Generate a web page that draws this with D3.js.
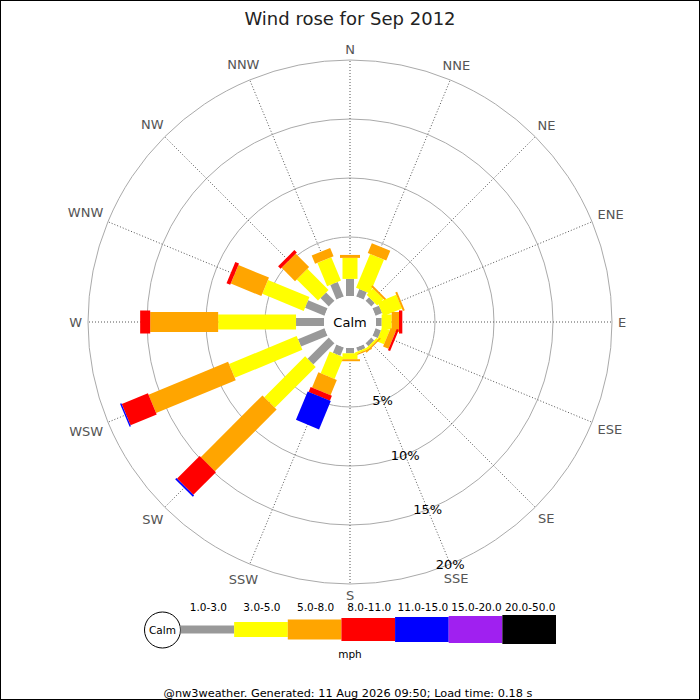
<!DOCTYPE html>
<html>
<head>
<meta charset="utf-8">
<script src="https://cdn.jsdelivr.net/npm/d3@7/dist/d3.min.js"></script>
<style>
  body { margin: 0; background: #fff; }
  svg { display: block; font-family: "DejaVu Sans", sans-serif; }
</style>
</head>
<body>
<svg id="chart" width="700" height="700"></svg>
<script>
"use strict";

// compass directions, clockwise from north
const directions = ["N","NNE","NE","ENE","E","ESE","SE","SSE","S","SSW","SW","WSW","W","WNW","NW","NNW"];
const speedBins = ["1.0-3.0","3.0-5.0","5.0-8.0","8.0-11.0","11.0-15.0","15.0-20.0","20.0-50.0"];

// percentage of time per direction for each speed class (mph)
const bin1to3   = [1.45,0.68,0.42,0.60,0.48,0.50,0.35,0.35,0.45,0.76,2.54,2.43,2.37,1.78,1.00,1.33];
const bin3to5   = [1.78,3.10,0.76,1.70,0.85,0.68,0.17,0.17,0.50,2.00,4.90,6.20,6.60,3.80,2.54,2.15];
const bin5to8   = [0.25,0.90,0.17,0.17,0.62,0.50,0.12,0.10,0.17,1.40,7.40,7.30,5.76,2.80,1.60,0.76];
const bin8to11  = [0,0,0,0,0.28,0.20,0,0,0,0.45,2.70,2.40,0.85,0.34,0.30,0];
const bin11to15 = [0,0,0,0,0,0,0,0,0,2.60,0.15,0.12,0,0,0,0];
const bin15to20 = [0,0,0,0,0,0,0,0,0,0,0,0,0,0,0,0];
const bin20to50 = [0,0,0,0,0,0,0,0,0,0,0,0,0,0,0,0];
const series = [bin1to3, bin3to5, bin5to8, bin8to11, bin11to15, bin15to20, bin20to50];

const pctTicks = [5, 10, 15, 20];

// styles
const binColors = ["#999999","#ffff00","#ffa500","#ff0000","#0000ff","#a020f0","#000000"];
const binWidths = [8, 15, 20, 23, 25, 27, 29];

const cx = 350, cy = 322;
const calmR = 26;

const svg = d3.select("#chart");

svg.append("rect")
  .attr("x", 0.5).attr("y", 0.5)
  .attr("width", 699).attr("height", 699)
  .attr("fill", "#fff").attr("stroke", "#000");

svg.append("text")
  .attr("x", 350).attr("y", 25)
  .attr("text-anchor", "middle")
  .attr("font-size", 18)
  .attr("fill", "#222")
  .text("Wind rose for Sep 2012");

const r = d3.scaleLinear().domain([0, 20]).range([calmR, 262]);
const angle = d3.scaleBand().domain(directions).range([0, 360]).paddingInner(0).align(0);
const ang = d => angle(d); // degrees clockwise from north

const rose = svg.append("g").attr("transform", `translate(${cx},${cy})`);

// grid circles
rose.selectAll("circle.grid")
  .data(pctTicks)
  .enter().append("circle")
  .attr("class", "grid")
  .attr("r", d => r(d))
  .attr("fill", "none")
  .attr("stroke", "#aaaaaa")
  .attr("stroke-width", 1);

// spokes
rose.selectAll("line.spoke")
  .data(directions)
  .enter().append("line")
  .attr("class", "spoke")
  .attr("x1", d => calmR * Math.sin(ang(d) * Math.PI / 180))
  .attr("y1", d => -calmR * Math.cos(ang(d) * Math.PI / 180))
  .attr("x2", d => r(20) * Math.sin(ang(d) * Math.PI / 180))
  .attr("y2", d => -r(20) * Math.cos(ang(d) * Math.PI / 180))
  .attr("stroke", "#555")
  .attr("stroke-width", 1)
  .attr("stroke-dasharray", "1,2");

// compass labels
const labelFont = 13;
rose.selectAll("text.dir")
  .data(directions)
  .enter().append("text")
  .attr("class", "dir")
  .attr("font-size", labelFont)
  .attr("fill", "#555")
  .attr("text-anchor", "middle")
  .attr("dominant-baseline", "central")
  .text(d => d)
  .each(function(d) {
    const a = ang(d) * Math.PI / 180;
    const ux = Math.sin(a), uy = -Math.cos(a);
    const w = this.getComputedTextLength();
    const rr = r(20) + 6 + (w / 2) * Math.abs(ux) + 5 * Math.abs(uy);
    d3.select(this).attr("x", rr * ux).attr("y", rr * uy);
  });

// stacked bars
const stacks = directions.map((d, i) => {
  let cum = 0;
  return series.map((s, k) => {
    const seg = { dir: d, k: k, from: cum, to: cum + s[i] };
    cum += s[i];
    return seg;
  }).filter(seg => seg.to > seg.from);
});

const barG = rose.selectAll("g.dirbar")
  .data(stacks)
  .enter().append("g")
  .attr("class", "dirbar")
  .attr("transform", (segs, i) => `rotate(${ang(directions[i])})`);

barG.selectAll("rect")
  .data(segs => segs)
  .enter().append("rect")
  .attr("x", s => -binWidths[s.k] / 2)
  .attr("width", s => binWidths[s.k])
  .attr("y", s => -r(s.to))
  .attr("height", s => r(s.to) - r(s.from))
  .attr("fill", s => binColors[s.k]);

// calm circle
rose.append("circle").attr("r", calmR).attr("fill", "#fff");
rose.append("text")
  .attr("text-anchor", "middle")
  .attr("dominant-baseline", "central")
  .attr("font-size", 13)
  .attr("fill", "#000")
  .text("Calm");

// percentage labels along SSE spoke
const sse = ang("SSE") * Math.PI / 180;
rose.selectAll("text.pct")
  .data(pctTicks)
  .enter().append("text")
  .attr("class", "pct")
  .attr("x", d => r(d) * Math.sin(sse))
  .attr("y", d => -r(d) * Math.cos(sse))
  .attr("text-anchor", "middle")
  .attr("dominant-baseline", "central")
  .attr("font-size", 13)
  .attr("fill", "#000")
  .text(d => d + "%");

// legend
const legX = d3.scaleBand().domain(speedBins).range([180.5, 556]);
const legY = 629.5;
const legend = svg.append("g");

legend.append("circle")
  .attr("cx", 162.5).attr("cy", 630).attr("r", 18)
  .attr("fill", "#fff").attr("stroke", "#000");
legend.append("text")
  .attr("x", 162.5).attr("y", 630)
  .attr("text-anchor", "middle").attr("dominant-baseline", "central")
  .attr("font-size", 10.5)
  .text("Calm");

legend.selectAll("rect")
  .data(speedBins)
  .enter().append("rect")
  .attr("x", d => legX(d))
  .attr("width", legX.bandwidth())
  .attr("y", (d, i) => legY - binWidths[i] / 2)
  .attr("height", (d, i) => binWidths[i])
  .attr("fill", (d, i) => binColors[i]);

legend.selectAll("text.bin")
  .data(speedBins)
  .enter().append("text")
  .attr("class", "bin")
  .attr("x", d => legX(d) + legX.bandwidth() / 2 + 1)
  .attr("y", 611)
  .attr("text-anchor", "middle")
  .attr("font-size", 10.5)
  .text(d => d);

legend.append("text")
  .attr("x", 350).attr("y", 658)
  .attr("text-anchor", "middle")
  .attr("font-size", 10.5)
  .text("mph");

svg.append("text")
  .attr("x", 348).attr("y", 697)
  .attr("text-anchor", "middle")
  .attr("font-size", 11.3)
  .text("@nw3weather. Generated: 11 Aug 2026 09:50; Load time: 0.18 s");
</script>
</body>
</html>
